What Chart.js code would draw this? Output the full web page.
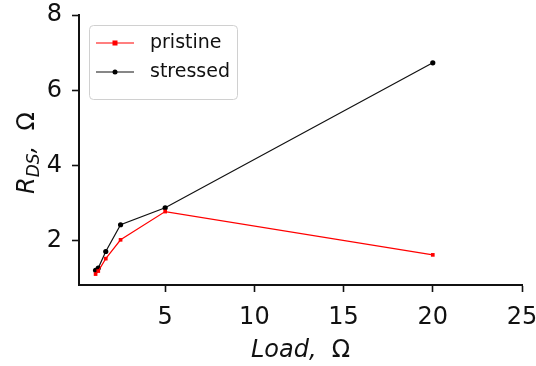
<!DOCTYPE html>
<html>
<head>
<meta charset="utf-8">
<script src="https://cdn.jsdelivr.net/npm/chart.js@4"></script>
<style>
	html, body { margin: 0; padding: 0; background: #fff; }
	#wrap { width: 536px; height: 366px; }
</style>
</head>
<body>
<div id="wrap"><canvas id="chart" width="536" height="366"></canvas></div>
<script>
// values
var loads = [1.1, 1.25, 1.67, 2.5, 5, 20];
var pristine = [1.12, 1.2, 1.53, 2.03, 2.78, 1.63];
var stressed = [1.22, 1.28, 1.72, 2.43, 2.88, 6.73];
var xTicks = [5, 10, 15, 20, 25];
var yTicks = [2, 4, 6, 8];
var seriesNames = ["pristine", "stressed"];

function toPoints(xs, ys) {
	var pts = [];
	for (let i = 0; i < xs.length; i++) pts.push({ x: xs[i], y: ys[i] });
	return pts;
}

var FONT = "'DejaVu Sans'";

// legend box drawn like matplotlib's (upper left, inside axes)
var boxLegend = {
	id: "boxLegend",
	afterDraw(chart) {
		var ctx = chart.ctx;
		var x0 = 89, y0 = 25, w = 148, h = 74, r = 4;
		ctx.save();
		ctx.beginPath();
		ctx.roundRect(x0 + 0.5, y0 + 0.5, w, h, r);
		ctx.fillStyle = "rgba(255,255,255,0.8)";
		ctx.fill();
		ctx.strokeStyle = "#d0d0d0";
		ctx.lineWidth = 1;
		ctx.stroke();
		var rows = [43, 72];
		chart.data.datasets.forEach((ds, i) => {
			var y = rows[i];
			ctx.strokeStyle = ds.borderColor;
			ctx.lineWidth = ds.borderWidth;
			ctx.beginPath();
			ctx.moveTo(96, y);
			ctx.lineTo(134, y);
			ctx.stroke();
			ctx.fillStyle = ds.pointBackgroundColor;
			if (ds.pointStyle === "rect") {
				ctx.fillRect(112.5, y - 2.5, 5, 5);
			} else {
				ctx.beginPath();
				ctx.arc(115, y, 2.5, 0, Math.PI * 2);
				ctx.fill();
			}
			ctx.fillStyle = "#111";
			ctx.font = "19px " + FONT;
			ctx.textBaseline = "middle";
			ctx.textAlign = "left";
			ctx.fillText(ds.label, 150, y);
		});
		ctx.restore();
	}
};

// axis titles with italic letters, subscript and upright Omega
var axisTitles = {
	id: "axisTitles",
	afterDraw(chart) {
		var ctx = chart.ctx;
		var area = chart.chartArea;
		ctx.save();
		ctx.fillStyle = "#111";
		ctx.textBaseline = "alphabetic";
		ctx.textAlign = "left";

		// x title
		var it = "italic 24px " + FONT, up = "24px " + FONT;
		ctx.font = it;
		var a = "Load,  ";
		var wa = ctx.measureText(a).width;
		ctx.font = up;
		var wo = ctx.measureText("\u03A9").width;
		var cx = (area.left + area.right) / 2;
		var sx = cx - (wa + wo) / 2;
		ctx.font = it;
		ctx.fillText(a, sx, 357);
		ctx.font = up;
		ctx.fillText("\u03A9", sx + wa, 357);

		// y title, rotated
		var parts = [
			{ t: "R", f: it, dy: 0 },
			{ t: "DS", f: "italic 17px " + FONT, dy: 5 },
			{ t: ",  ", f: it, dy: 0 },
			{ t: "\u03A9", f: up, dy: 0 }
		];
		var total = 0;
		parts.forEach(p => { ctx.font = p.f; p.w = ctx.measureText(p.t).width; total += p.w; });
		ctx.translate(34, (area.top + area.bottom) / 2 + 3);
		ctx.rotate(-Math.PI / 2);
		var px = -total / 2;
		parts.forEach(p => {
			ctx.font = p.f;
			ctx.fillText(p.t, px, p.dy);
			px += p.w;
		});
		ctx.restore();
	}
};

new Chart(document.getElementById("chart"), {
	type: "line",
	data: {
		datasets: [
			{
				label: seriesNames[0],
				data: toPoints(loads, pristine),
				borderColor: "#ff0000",
				backgroundColor: "#ff0000",
				pointBackgroundColor: "#ff0000",
				pointBorderColor: "#ff0000",
				pointStyle: "rect",
				pointRadius: 2.6,
				pointBorderWidth: 0,
				borderWidth: 1.2,
				tension: 0,
				order: 1
			},
			{
				label: seriesNames[1],
				data: toPoints(loads, stressed),
				borderColor: "#111111",
				backgroundColor: "#000000",
				pointBackgroundColor: "#000000",
				pointBorderColor: "#000000",
				pointStyle: "circle",
				pointRadius: 2.6,
				pointBorderWidth: 0,
				borderWidth: 1.2,
				tension: 0,
				order: 2
			}
		]
	},
	options: {
		responsive: false,
		animation: false,
		layout: { padding: 0 },
		plugins: {
			legend: { display: false },
			tooltip: { enabled: false }
		},
		scales: {
			x: {
				type: "linear",
				min: 0.17,
				max: 25,
				afterBuildTicks: (s) => { s.ticks = xTicks.map(v => ({ value: v })); },
				afterFit: (s) => { s.height = 81; s.paddingRight = 14; s.paddingLeft = 0; },
				grid: { drawOnChartArea: false, drawTicks: true, tickLength: 7, tickWidth: 1.6, tickColor: "#111" },
				border: { color: "#111", width: 2 },
				ticks: { color: "#111", font: { family: "DejaVu Sans", size: 24 }, padding: 11, maxRotation: 0, autoSkip: false }
			},
			y: {
				type: "linear",
				min: 0.83,
				max: 8,
				afterBuildTicks: (s) => { s.ticks = yTicks.map(v => ({ value: v })); },
				afterFit: (s) => { s.width = 79; s.paddingTop = 15; s.paddingBottom = 0; },
				grid: { drawOnChartArea: false, drawTicks: true, tickLength: 7, tickWidth: 1.6, tickColor: "#111" },
				border: { color: "#111", width: 2 },
				ticks: { color: "#111", font: { family: "DejaVu Sans", size: 24 }, padding: 10, autoSkip: false }
			}
		}
	},
	plugins: [boxLegend, axisTitles]
});
</script>
</body>
</html>
